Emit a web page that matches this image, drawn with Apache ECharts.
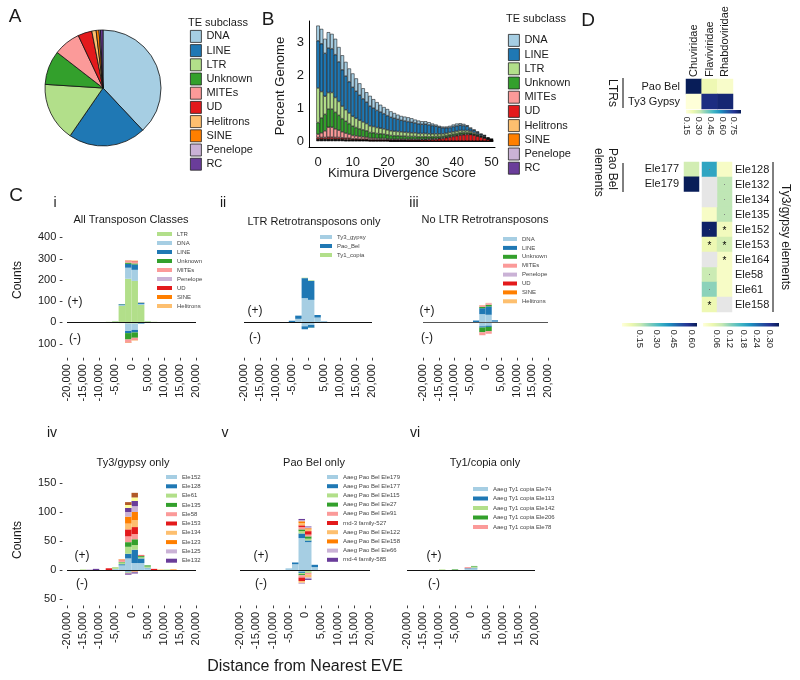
<!DOCTYPE html>
<html><head><meta charset="utf-8">
<script src="https://cdn.jsdelivr.net/npm/echarts@6/dist/echarts.min.js"></script>
<style>html,body{margin:0;padding:0;background:#fff;}#chart{width:800px;height:680px;}</style>
</head><body><div id="chart"></div>
<script>
// ================= DATA =================
// Panel A / B : TE subclasses
const teNames = ['DNA','LINE','LTR','Unknown','MITEs','UD','Helitrons','SINE','Penelope','RC'];
const piePercent = [38.0,21.6,16.4,9.5,7.5,3.9,1.2,0.8,0.4,0.7];

const kimura = [0,1,2,3,4,5,6,7,8,9,10,11,12,13,14,15,16,17,18,19,20,21,22,23,24,25,26,27,28,29,30,31,32,33,34,35,36,37,38,39,40,41,42,43,44,45,46,47,48,49,50];
const bStackNames = ['RC','Penelope','SINE','Helitrons','UD','MITEs','Unknown','LTR','LINE','DNA'];
const bRC = [0.02,0.02,0.02,0.02,0.02,0.02,0.02,0.02, 0.01,0.01,0.01,0.01,0.01,0.01,0.01,0.01,0.01,0.01,0.01,0.01,0.01, 0,0,0,0,0,0,0,0,0,0, 0,0,0,0,0,0,0,0,0,0, 0,0,0,0,0,0,0,0,0,0];
const bPenelope = [0.01,0.01,0.01,0.01,0.01,0.01,0.01,0.01,0.01,0.01, 0.01,0.01,0.01,0.01,0.01, 0,0,0,0,0, 0,0,0,0,0,0,0,0,0,0, 0,0,0,0,0,0,0,0,0,0, 0,0,0,0,0,0,0,0,0,0, 0];
const bSINE = [0.01,0.01,0.01,0.01,0.01,0.01,0.01,0.01,0.01,0.01, 0.01,0.01, 0,0,0,0,0,0,0,0, 0,0,0,0,0,0,0,0,0,0, 0,0,0,0,0,0,0,0,0,0, 0,0,0,0,0,0,0,0,0,0, 0];
const bHelitrons = [0.02,0.02,0.02,0.02,0.02,0.02,0.02,0.02,0.02,0.02, 0.01,0.01,0.01,0.01,0.01,0.01,0.01,0.01,0.01,0.01, 0.01,0.01,0.01,0.01,0.01,0.01,0,0,0,0, 0,0,0,0,0,0,0,0,0,0, 0,0,0,0,0,0,0,0,0,0,0];
const bUD = [0.05,0.05,0.05,0.06,0.06,0.05,0.05,0.04,0.04,0.04, 0.03,0.03,0.03,0.03,0.03,0.02,0.02,0.02,0.02,0.02, 0.02,0.02,0.02,0.02,0.02,0.02,0.03,0.03,0.03,0.03, 0.04,0.04,0.05,0.05,0.06,0.07,0.08,0.10,0.12,0.14, 0.16,0.18,0.19,0.20,0.20,0.18,0.15,0.12,0.09,0.06,0.03];
const bMITEs = [0.10,0.14,0.20,0.30,0.30,0.26,0.22,0.18,0.15,0.12, 0.10,0.09,0.08,0.07,0.06,0.05,0.05,0.04,0.04,0.04, 0.03,0.03,0.03,0.03,0.03,0.03,0.03,0.03,0.03,0.03, 0.02,0.02,0.02,0.02,0.02,0.02,0.02,0.02,0.02,0.02, 0.02,0.02,0.02,0.02,0.01,0.01,0.01,0.01,0.01,0,0];
const bUnknown = [0.35,0.45,0.50,0.55,0.55,0.50,0.45,0.40,0.36,0.32, 0.28,0.25,0.23,0.21,0.19,0.17,0.16,0.15,0.14,0.13, 0.12,0.11,0.10,0.10,0.09,0.09,0.08,0.08,0.08,0.07, 0.07,0.07,0.06,0.06,0.06,0.05,0.05,0.05,0.05,0.05, 0.05,0.05,0.05,0.04,0.04,0.03,0.03,0.02,0.02,0.01,0.01];
const bLTR = [1.05,0.80,0.55,0.50,0.50,0.45,0.42,0.38,0.35,0.32, 0.30,0.28,0.26,0.24,0.22,0.20,0.19,0.18,0.17,0.16, 0.15,0.14,0.14,0.13,0.13,0.12,0.12,0.11,0.11,0.10, 0.10,0.10,0.09,0.09,0.08,0.08,0.07,0.07,0.07,0.07, 0.07,0.07,0.06,0.06,0.05,0.04,0.03,0.02,0.02,0.01,0.01];
const bLINE = [1.43,1.45,1.30,1.35,1.33,1.30,1.20,1.10,1.02,0.95, 0.88,0.82,0.76,0.70,0.65,0.60,0.56,0.52,0.49,0.46, 0.43,0.41,0.39,0.37,0.35,0.34,0.33,0.32,0.30,0.29, 0.28,0.28,0.27,0.25,0.23,0.20,0.18,0.16,0.15,0.16, 0.16,0.16,0.15,0.13,0.08,0.07,0.05,0.04,0.03,0.02,0.01];
const bDNA = [0.46,0.45,0.44,0.48,0.45,0.48,0.45,0.44,0.43,0.40, 0.42,0.39,0.36,0.32,0.30,0.31,0.27,0.25,0.22,0.20, 0.20,0.18,0.16,0.14,0.13,0.13,0.13,0.12,0.10,0.10, 0.09,0.09,0.08,0.06,0.05,0.04,0.04,0.04,0.05,0.06, 0.07,0.06,0.05,0.03,0.03,0.02,0.02,0.01,0.01,0.01,0];
const bValues = [bRC,bPenelope,bSINE,bHelitrons,bUD,bMITEs,bUnknown,bLTR,bLINE,bDNA];
const bXTicks = [0,10,20,30,40,50];
const bYTicks = [0,1,2,3];

// Panel C : distance bins (2 kb) centres
const cBins = [-19000,-17000,-15000,-13000,-11000,-9000,-7000,-5000,-3000,-1000,1000,3000,5000,7000,9000,11000,13000,15000,17000,19000];

// C i  All Transposon Classes
const ciNames = ['LTR','DNA','LINE','Unknown','MITEs','Penelope','UD','SINE','Helitrons'];
const ciPos = [
  [1,1,1,1,1,2,3,6,78,205,195,82,6,3,2,1,1,1,1,1],
  [0,0,0,0,0,0,0,1,3,52,52,5,1,0,0,0,0,0,0,0],
  [0,0,0,0,0,0,0,0,4,18,25,5,0,0,0,0,0,0,0,0],
  [0,0,0,0,0,0,0,0,1,6,5,1,0,0,0,0,0,0,0,0],
  [0,0,0,0,0,0,0,0,0,8,8,1,0,0,0,0,0,0,0,0],
  [0,0,0,0,0,0,0,0,0,1,1,0,0,0,0,0,0,0,0,0],
  [0,0,0,0,0,0,0,0,0,1,2,0,0,0,0,0,0,0,0,0],
  [0,0,0,0,0,0,0,0,0,0,1,0,0,0,0,0,0,0,0,0],
  [0,0,0,0,0,0,0,0,0,2,2,0,0,0,0,0,0,0,0,0]
];
const ciNeg = [
  [0,0,0,0,0,0,0,0,0,-5,-5,0,0,0,0,0,0,0,0,0],
  [0,0,0,0,0,0,0,0,-3,-35,-30,-5,0,0,0,0,0,0,0,0],
  [0,0,0,0,0,0,0,0,0,-10,-12,-2,0,0,0,0,0,0,0,0],
  [0,0,0,0,0,0,0,0,0,-30,-25,0,0,0,0,0,0,0,0,0],
  [0,0,0,0,0,0,0,0,0,-12,-10,0,0,0,0,0,0,0,0,0],
  [0,0,0,0,0,0,0,0,0,0,0,0,0,0,0,0,0,0,0,0],
  [0,0,0,0,0,0,0,0,0,-2,-1,0,0,0,0,0,0,0,0,0],
  [0,0,0,0,0,0,0,0,0,0,0,0,0,0,0,0,0,0,0,0],
  [0,0,0,0,0,0,0,0,0,-2,-2,0,0,0,0,0,0,0,0,0]
];
// C ii  LTR Retrotransposons only
const ciiNames = ['Ty3_gypsy','Pao_Bel','Ty1_copia'];
const ciiPos = [
  [0,0,0,0,0,0,1,2,17,114,106,23,5,1,0,0,0,0,0,0],
  [0,0,0,0,0,0,0,6,15,94,89,12,1,0,0,0,0,0,0,0],
  [0,0,0,0,0,0,0,0,0,2,3,0,0,0,0,0,0,0,0,0]
];
const ciiNeg = [
  [0,0,0,0,0,0,0,0,0,-18,-12,0,0,0,0,0,0,0,0,0],
  [0,0,0,0,0,0,0,0,0,-14,-13,0,0,0,0,0,0,0,0,0],
  [0,0,0,0,0,0,0,0,0,0,-1,0,0,0,0,0,0,0,0,0]
];
// C iii  No LTR Retrotransposons
const ciiiNames = ['DNA','LINE','Unknown','MITEs','Penelope','UD','SINE','Helitrons'];
const ciiiPos = [
  [0,0,0,0,0,0,0,0,2,39,36,4,0,0,0,0,0,0,0,0],
  [0,0,0,0,0,0,0,0,7,28,39,6,0,0,0,0,0,0,0,0],
  [0,0,0,0,0,0,0,0,0,6,8,0,0,0,0,0,0,0,0,0],
  [0,0,0,0,0,0,0,0,0,6,7,0,0,0,0,0,0,0,0,0],
  [0,0,0,0,0,0,0,0,0,0,1,0,0,0,0,0,0,0,0,0],
  [0,0,0,0,0,0,0,0,0,1,0,0,0,0,0,0,0,0,0,0],
  [0,0,0,0,0,0,0,0,0,0,0,0,0,0,0,0,0,0,0,0],
  [0,0,0,0,0,0,0,0,0,1,1,0,0,0,0,0,0,0,0,0]
];
const ciiiNeg = [
  [0,0,0,0,0,0,0,0,0,-18,-15,0,0,0,0,0,0,0,0,0],
  [0,0,0,0,0,0,0,0,0,-6,-6,0,0,0,0,0,0,0,0,0],
  [0,0,0,0,0,0,0,0,0,-22,-20,0,0,0,0,0,0,0,0,0],
  [0,0,0,0,0,0,0,0,0,-14,-12,0,0,0,0,0,0,0,0,0],
  [0,0,0,0,0,0,0,0,0,0,0,0,0,0,0,0,0,0,0,0],
  [0,0,0,0,0,0,0,0,0,0,0,0,0,0,0,0,0,0,0,0],
  [0,0,0,0,0,0,0,0,0,0,0,0,0,0,0,0,0,0,0,0],
  [0,0,0,0,0,0,0,0,0,0,0,0,0,0,0,0,0,0,0,0]
];
// C iv  Ty3/gypsy only
const civNames = ['Ele152','Ele128','Ele61','Ele135','Ele58','Ele153','Ele134','Ele123','Ele125','Ele132','Ele164','Ele158'];
const civLegendCount = 10;
const civPos = [
  [0,0,0,0,0,0,0,2,8,20,12,12,3,0,0,0,0,0,0,0],
  [0,0,0,0,0,0,0,0,2,8,23,8,1,0,0,0,0,0,0,0],
  [0,0,1,0,0,0,0,3,3,12,8,2,2,0,0,1,0,0,0,0],
  [0,0,0,0,0,0,0,0,1,8,10,2,2,0,0,0,0,0,0,0],
  [0,0,0,0,0,0,0,0,3,10,9,1,0,0,0,0,0,0,0,0],
  [0,0,0,0,0,0,3,0,1,12,12,1,0,2,0,0,0,0,0,0],
  [0,0,0,0,0,0,0,0,1,10,12,0,0,0,1,0,0,0,0,0],
  [0,0,0,0,0,0,0,0,0,12,14,0,0,0,0,0,1,0,0,0],
  [0,0,0,1,0,0,0,0,0,8,10,0,0,0,0,0,0,0,0,0],
  [0,0,0,0,2,0,0,0,0,7,9,0,0,0,0,0,0,0,0,0],
  [0,0,0,0,0,0,0,0,0,5,6,0,0,0,0,0,0,0,0,0],
  [0,0,0,0,0,0,0,0,0,5,8,0,0,0,0,0,0,0,0,0]
];
const civNeg = [
  [0,0,0,0,0,0,0,0,0,-3,-2,0,0,0,0,0,0,0,0,0],
  [0,0,0,0,0,0,0,0,0,-1,0,0,0,0,0,0,0,0,0,0],
  [0,0,0,0,0,0,0,0,0,-1,0,0,0,0,0,0,0,0,0,0],
  [0,0,0,0,0,0,0,0,0,0,0,0,0,0,0,0,0,0,0,0],
  [0,0,0,0,0,0,0,0,0,-1,0,0,0,0,0,0,0,0,0,0],
  [0,0,0,0,0,0,0,0,0,0,0,0,0,0,0,0,0,0,0,0],
  [0,0,0,0,0,0,0,0,0,0,0,0,0,0,0,0,0,0,0,0],
  [0,0,0,0,0,0,0,0,0,0,-1,0,0,0,0,0,0,0,0,0],
  [0,0,0,0,0,0,0,0,0,0,-1,0,0,0,0,0,0,0,0,0],
  [0,0,0,0,0,0,0,0,0,-2,-2,0,0,0,0,0,0,0,0,0],
  [0,0,0,0,0,0,0,0,0,0,0,0,0,0,0,0,0,0,0,0],
  [0,0,0,0,0,0,0,0,0,0,0,0,0,0,0,0,0,0,0,0]
];
// C v  Pao Bel only
const cvNames = ['Aaeg Pao Bel Ele179','Aaeg Pao Bel Ele177','Aaeg Pao Bel Ele115','Aaeg Pao Bel Ele27','Aaeg Pao Bel Ele91','rnd-3 family-527','Aaeg Pao Bel Ele122','Aaeg Pao Bel Ele158','Aaeg Pao Bel Ele66','rnd-4 family-585'];
const cvPos = [
  [0,0,0,0,0,0,0,3,10,55,48,5,0,0,0,0,0,0,0,0],
  [0,0,0,0,0,0,0,0,3,8,3,4,0,0,0,0,0,0,0,0],
  [0,0,0,0,0,0,0,0,0,4,3,0,0,0,0,0,0,0,0,0],
  [0,0,0,0,0,0,0,0,0,3,4,0,0,0,0,0,0,0,0,0],
  [0,0,0,0,0,0,0,0,0,4,3,0,0,0,0,0,0,0,0,0],
  [0,0,0,0,0,0,0,0,0,3,6,0,0,0,0,0,0,0,0,0],
  [0,0,0,0,0,0,0,0,0,4,3,0,0,0,0,0,0,0,0,0],
  [0,0,0,0,0,0,0,0,0,3,2,0,0,0,0,0,0,0,0,0],
  [0,0,0,0,0,0,0,0,0,2,2,0,0,0,0,0,0,0,0,0],
  [0,0,0,0,0,0,0,0,0,2,1,0,0,0,0,0,0,0,0,0]
];
const cvNeg = [
  [0,0,0,0,0,0,0,0,0,-3,-2,0,0,0,0,0,0,0,0,0],
  [0,0,0,0,0,0,0,0,0,-2,0,0,0,0,0,0,0,0,0,0],
  [0,0,0,0,0,0,0,0,0,-2,-3,0,0,0,0,0,0,0,0,0],
  [0,0,0,0,0,0,0,0,0,-2,0,0,0,0,0,0,0,0,0,0],
  [0,0,0,0,0,0,0,0,0,-4,-3,0,0,0,0,0,0,0,0,0],
  [0,0,0,0,0,0,0,0,0,-6,0,0,0,0,0,0,0,0,0,0],
  [0,0,0,0,0,0,0,0,0,-3,-5,0,0,0,0,0,0,0,0,0],
  [0,0,0,0,0,0,0,0,0,0,0,0,0,0,0,0,0,0,0,0],
  [0,0,0,0,0,0,0,0,0,-2,-2,0,0,0,0,0,0,0,0,0],
  [0,0,0,0,0,0,0,0,0,0,-2,0,0,0,0,0,0,0,0,0]
];
// C vi  Ty1/copia only
const cviNames = ['Aaeg Ty1 copia Ele74','Aaeg Ty1 copia Ele113','Aaeg Ty1 copia Ele142','Aaeg Ty1 copia Ele206','Aaeg Ty1 copia Ele78'];
const cviPos = [
  [0,0,0,0,0,0,0,0,0,2,3,0,0,0,0,0,0,0,0,0],
  [0,0,0,0,0,0,0,0,0,1,1,0,0,0,0,0,0,0,0,0],
  [0,0,0,0,0,1,0,0,0,0,2,0,0,0,0,0,0,0,0,0],
  [0,0,0,0,0,0,0,1,0,0,1,0,0,0,0,0,0,0,0,0],
  [0,0,0,0,0,0,0,0,0,2,0,0,0,0,0,0,0,0,0,0]
];
const cXTicks = [-20000,-15000,-10000,-5000,0,5000,10000,15000,20000];
const ciYTicks = [-100,0,100,200,300,400];
const civYTicks = [-50,0,50,100,150];

// Panel D : correlation heatmaps
const dVirus = ['Chuviridae','Flaviviridae','Rhabdoviridae'];
const dLtrRows = ['Pao Bel','Ty3 Gypsy'];
const dLtrVals = [[0.84,0.22,0.17],[0.14,0.78,0.80]];
const dLtrRange = [0.137,0.84];
const dLtrTicks = [0.15,0.30,0.45,0.60,0.75];
const dPaoRows = ['Ele177','Ele179'];
const dPaoChuvi = [0.14,0.65];
const dPaoRange = [0,0.65];
const dPaoTicks = [0.15,0.30,0.45,0.60];
const dTy3Rows = ['Ele128','Ele132','Ele134','Ele135','Ele152','Ele153','Ele164','Ele58','Ele61','Ele158'];
const dTy3Flavi  = [0.19,null,null,0.02,0.33,0.04,null,0.08,0.12,0.04];
const dTy3Rhabdo = [0.02,0.09,0.09,0.09,0.03,0.07,0.02,0.02,0.02,null];
const dTy3FlaviMark  = ['·','','','','·','*','','·','·','*'];
const dTy3RhabdoMark = ['','·','·','·','*','*','*','','',''];
const dTy3Range = [0,0.34];
const dTy3Ticks = [0.06,0.12,0.18,0.24,0.30];

// ================= STYLE =================
const FONT = '"Liberation Sans", Arial, sans-serif';
const TXT = '#1a1a1a';
const PAIRED = ['#A6CEE3','#1F78B4','#B2DF8A','#33A02C','#FB9A99','#E31A1C','#FDBF6F','#FF7F00','#CAB2D6','#6A3D9A','#FFFF99','#B15928'];
const teColor = {DNA:'#A6CEE3',LINE:'#1F78B4',LTR:'#B2DF8A',Unknown:'#33A02C',MITEs:'#FB9A99',UD:'#E31A1C',Helitrons:'#FDBF6F',SINE:'#FF7F00',Penelope:'#CAB2D6',RC:'#6A3D9A'};
const YLGNBU = ['#ffffd9','#edf8b1','#c7e9b4','#7fcdbb','#41b6c4','#1d91c0','#225ea8','#253494','#081d58'];

const grids=[], xAxes=[], yAxes=[], series=[], legends=[], visualMaps=[], gfx=[];
const noLine = {show:false, onZero:false};

function T(text, x, y, size, o) {
  o = o || {};
  return {type:'text', x:x, y:y, rotation:o.rot||0, silent:true,
    style:{text:text, fontSize:size, fontFamily:FONT, fill:o.fill||TXT,
      align:o.align||'center', verticalAlign:o.va||'middle', lineHeight:o.lh||undefined}};
}
function L(x1,y1,x2,y2){ return {type:'line', silent:true, shape:{x1,y1,x2,y2}, style:{stroke:'#000', lineWidth:1}}; }

// ---------- Panel A : pie ----------
series.push({type:'pie', name:'TE subclass', center:[103,88], radius:58, startAngle:90, clockwise:true,
  silent:true, label:{show:false}, labelLine:{show:false}, emphasis:{disabled:true},
  itemStyle:{borderColor:'#111', borderWidth:0.8},
  data: teNames.map((n,i)=>({name:n, value:piePercent[i], itemStyle:{color:teColor[n]}}))});

const teLegendBase = {orient:'vertical', icon:'rect', itemWidth:11, itemHeight:12, itemGap:1.4, padding:0,
  selectedMode:false, data:teNames, textStyle:{fontSize:11, color:TXT, fontFamily:FONT, lineHeight:12},
  itemStyle:{borderColor:'#222', borderWidth:0.8}};
legends.push(Object.assign({left:190, top:30}, teLegendBase));
legends.push(Object.assign({left:508, top:34}, teLegendBase));

// ---------- Panel B : stacked bars ----------
(function(){
  const ga = grids.push({left:309, top:21, width:186, height:126})-1;
  xAxes.push({gridIndex:ga, type:'value', min:-2.6, max:51.0, axisLine:{show:true, onZero:false, lineStyle:{color:'#000', width:1}},
    axisTick:{show:false}, splitLine:{show:false},
    axisLabel:{customValues:bXTicks, fontSize:13, color:TXT, fontFamily:FONT, margin:9}});
  yAxes.push({gridIndex:ga, type:'value', min:-0.18, max:3.64, axisLine:{show:true, onZero:false, lineStyle:{color:'#000', width:1}},
    axisTick:{show:false}, splitLine:{show:false},
    axisLabel:{customValues:bYTicks, fontSize:13, color:TXT, fontFamily:FONT, margin:5}});
  const gb = grids.push({left:316.3, top:21, width:176.9, height:126})-1;
  const xi = xAxes.push({gridIndex:gb, type:'category', data:kimura, show:false})-1;
  const yi = yAxes.push({gridIndex:gb, type:'value', min:-0.18, max:3.64, show:false})-1;
  bStackNames.forEach((n,i)=>{
    series.push({type:'bar', name:n, xAxisIndex:xi, yAxisIndex:yi, stack:'B', barCategoryGap:'0%',
      silent:true, emphasis:{disabled:true},
      itemStyle:{color:teColor[n], borderColor:'#000', borderWidth:0.5}, data:bValues[i]});
  });
})();

// ---------- Panel C : distance histograms ----------
function cPanel(cfg){
  const gi = grids.push({left:cfg.left, top:cfg.top, width:cfg.width, height:cfg.height})-1;
  const xc = xAxes.push({gridIndex:gi, type:'category', data:cBins, position:'top', show:false})-1;
  xAxes.push({gridIndex:gi, type:'value', position:'bottom', min:-20000, max:20000, interval:5000,
    axisLine:noLine, axisTick:{show:false}, splitLine:{show:false},
    axisLabel:{customValues:cXTicks, rotate:90, fontSize:11, color:TXT, fontFamily:FONT, margin:cfg.xMargin,
      formatter:v=>Number(v).toLocaleString('en-US')+' -'}});
  const yi = yAxes.push({gridIndex:gi, type:'value', min:cfg.ymin, max:cfg.ymax,
    axisLine:noLine, axisTick:{show:false}, splitLine:{show:false},
    axisLabel: cfg.yTicks ? {customValues:cfg.yTicks, fontSize:11, color:TXT, fontFamily:FONT, margin:4,
      formatter:v=>Math.abs(v)+' -'} : {show:false}})-1;
  const stack = 'C'+gi;
  const add = (name, color, data) => series.push({type:'bar', name, xAxisIndex:xc, yAxisIndex:yi, stack,
    barCategoryGap:'0%', silent:true, emphasis:{disabled:true}, itemStyle:{color}, data});
  cfg.names.forEach((n,i)=>add(n, cfg.colors[i], cfg.pos[i]));
  if (cfg.neg) cfg.names.forEach((n,i)=>{ if (cfg.neg[i].some(v=>v!==0)) add(n, cfg.colors[i], cfg.neg[i]); });
  series[series.length-1].markLine = {silent:true, symbol:'none', label:{show:false}, animation:false,
    lineStyle:{color:cfg.lineColor||'#111', width:1.2, type:'solid'}, emphasis:{disabled:true}, data:[{yAxis:0}]};
  legends.push({left:cfg.lg[0], top:cfg.lg[1], orient:'vertical', icon:'rect', itemWidth:cfg.lg[2], itemHeight:4,
    itemGap:cfg.lg[3], padding:0, selectedMode:false, data:cfg.names.slice(0, cfg.legendCount||cfg.names.length),
    textStyle:{fontSize:6, lineHeight:6, color:'#444', fontFamily:FONT}, itemStyle:{borderWidth:0}});
}
const rowTop = {top:226.6, height:127.8, ymin:-150, ymax:450, xMargin:3};
const rowBot = {top:470.2, height:132.9, ymin:-57, ymax:172, xMargin:2};
cPanel(Object.assign({left:67, width:129, names:ciNames, colors:ciNames.map(n=>teColor[n]), pos:ciPos, neg:ciNeg, yTicks:ciYTicks, lg:[157,231,15,3]}, rowTop));
cPanel(Object.assign({left:244, width:128, names:ciiNames, colors:[PAIRED[0],PAIRED[1],PAIRED[2]], pos:ciiPos, neg:ciiNeg, lg:[320,234,12,3]}, rowTop));
cPanel(Object.assign({left:423, width:125, names:ciiiNames, colors:ciiiNames.map(n=>teColor[n]), pos:ciiiPos, neg:ciiiNeg, lg:[503,236,14,2.9], lineColor:'#555'}, rowTop));
cPanel(Object.assign({left:67, width:129, names:civNames, colors:PAIRED, pos:civPos, neg:civNeg, yTicks:civYTicks, legendCount:civLegendCount, lg:[166,474,11,3.3]}, rowBot));
cPanel(Object.assign({left:240, width:130, names:cvNames, colors:PAIRED, pos:cvPos, neg:cvNeg, lg:[327,474,11,3.2]}, rowBot));
cPanel(Object.assign({left:407, width:128, names:cviNames, colors:PAIRED, pos:cviPos, lg:[473,486,15,3.5]}, rowBot));

// ---------- Panel D : heatmaps ----------
function catAxis(gi, data, extra){ return Object.assign({gridIndex:gi, type:'category', data, axisLine:{show:false}, axisTick:{show:false}, splitLine:{show:false}, splitArea:{show:false}}, extra); }
const dLabel = {fontSize:11, color:TXT, fontFamily:FONT};
(function(){
  const gi = grids.push({left:686, top:79, width:47, height:30})-1;
  const xi = xAxes.push(catAxis(gi, dVirus, {position:'top', axisLabel:Object.assign({rotate:-90, margin:2}, dLabel)}))-1;
  const yi = yAxes.push(catAxis(gi, dLtrRows, {inverse:true, axisLabel:Object.assign({margin:6}, dLabel)}))-1;
  const data=[]; dLtrRows.forEach((r,ri)=>dVirus.forEach((c,ci)=>data.push([ci,ri,dLtrVals[ri][ci]])));
  const si = series.push({type:'heatmap', xAxisIndex:xi, yAxisIndex:yi, data, silent:true, emphasis:{disabled:true}})-1;
  visualMaps.push({show:false, seriesIndex:si, dimension:2, min:dLtrRange[0], max:dLtrRange[1], inRange:{color:YLGNBU}});
})();
(function(){
  const gi = grids.push({left:684, top:162, width:15, height:29.5})-1;
  const xi = xAxes.push(catAxis(gi, [dVirus[0]], {axisLabel:{show:false}}))-1;
  const yi = yAxes.push(catAxis(gi, dPaoRows, {inverse:true, axisLabel:Object.assign({margin:5}, dLabel)}))-1;
  const data = dPaoRows.map((r,ri)=>[0,ri,dPaoChuvi[ri]]);
  const si = series.push({type:'heatmap', xAxisIndex:xi, yAxisIndex:yi, data, silent:true, emphasis:{disabled:true}})-1;
  visualMaps.push({show:false, seriesIndex:si, dimension:2, min:dPaoRange[0], max:dPaoRange[1], inRange:{color:YLGNBU}});
})();
(function(){
  const gi = grids.push({left:702, top:162, width:30, height:150})-1;
  const xi = xAxes.push(catAxis(gi, [dVirus[1],dVirus[2]], {axisLabel:{show:false}}))-1;
  const yi = yAxes.push(catAxis(gi, dTy3Rows, {inverse:true, position:'right', axisLabel:Object.assign({margin:3}, dLabel)}))-1;
  const data=[], na=[];
  const cols = [[dTy3Flavi,dTy3FlaviMark],[dTy3Rhabdo,dTy3RhabdoMark]];
  dTy3Rows.forEach((r,ri)=>cols.forEach((col,ci)=>{
    const v = col[0][ri], m = col[1][ri];
    if (v === null) { na.push([ci,ri,0]); return; }
    const item = {value:[ci,ri,v]};
    if (m === '*') item.label = {show:true, formatter:'*', fontSize:10, color:'#000', fontFamily:FONT, offset:[0,2]};
    else if (m) item.label = {show:true, formatter:m, fontSize:9, color:'#7a7a7a', fontFamily:FONT};
    data.push(item);
  }));
  const si = series.push({type:'heatmap', xAxisIndex:xi, yAxisIndex:yi, data, label:{show:false}, silent:true, emphasis:{disabled:true}})-1;
  visualMaps.push({show:false, seriesIndex:si, dimension:2, min:dTy3Range[0], max:dTy3Range[1], inRange:{color:YLGNBU}});
  series.push({type:'heatmap', name:'NA', xAxisIndex:xi, yAxisIndex:yi, data:na, itemStyle:{color:'#e6e6e6'}, label:{show:false}, silent:true, emphasis:{disabled:true}});
})();

function colorbar(x, y, w, h, range, ticks){
  gfx.push({type:'rect', silent:true, shape:{x, y, width:w, height:h},
    style:{fill:new echarts.graphic.LinearGradient(0,0,1,0, YLGNBU.map((c,i)=>({offset:i/(YLGNBU.length-1), color:c})))}});
  ticks.forEach(t=>{
    const tx = x + (t-range[0])/(range[1]-range[0])*w;
    gfx.push(T(t.toFixed(2), tx, y+h+3, 9.5, {rot:-Math.PI/2, align:'left'}));
  });
}
colorbar(686,110,55,3.5,dLtrRange,dLtrTicks);
colorbar(622,323,75,3.5,dPaoRange,dPaoTicks);
colorbar(703,323,76,3.5,dTy3Range,dTy3Ticks);

// ---------- texts ----------
gfx.push(T('A',15,17,19), T('B',268,20,19), T('C',16,196,19), T('D',588,21,19));
gfx.push(T('TE subclass',188,23,11,{align:'left'}), T('TE subclass',506,19,11,{align:'left'}));
gfx.push(T('Percent Genome',280,86,13,{rot:Math.PI/2}), T('Kimura Divergence Score',402,173,13));
gfx.push(T('i',55,203,14), T('ii',223,203,14), T('iii',414,203,14), T('iv',52,433,14), T('v',225,433,14), T('vi',415,433,14));
gfx.push(T('All Transposon Classes',131,220,11), T('LTR Retrotransposons only',314,222,11), T('No LTR Retrotransposons',485,220,11),
         T('Ty3/gypsy only',133,463,11), T('Pao Bel only',314,463,11), T('Ty1/copia only',485,463,11));
[[75,302,339],[255,311,338],[427,311,338],[82,556,584],[261,556,584],[434,556,584]].forEach(p=>{
  gfx.push(T('(+)',p[0],p[1],12), T('(-)',p[0],p[2],12));
});
gfx.push(T('Counts',18,280,12,{rot:Math.PI/2}), T('Counts',18,540,12,{rot:Math.PI/2}));
gfx.push(T('Distance from Nearest EVE',305,667,16));
gfx.push(T('LTRs',612,93,12,{rot:-Math.PI/2}), T('Pao Bel\nelements',605,148,12,{rot:-Math.PI/2, align:'left', lh:14}),
         T('Ty3/gypsy elements',785,237,12,{rot:-Math.PI/2}));
gfx.push(L(623,78,623,108), L(623,163,623,192), L(773,162,773,312));

const chart = echarts.init(document.getElementById('chart'), null, {renderer:'canvas'});
chart.setOption({
  animation:false, backgroundColor:'#fff',
  grid:grids, xAxis:xAxes, yAxis:yAxes, series, legend:legends, visualMap:visualMaps,
  graphic:{elements:gfx}
});
</script></body></html>
